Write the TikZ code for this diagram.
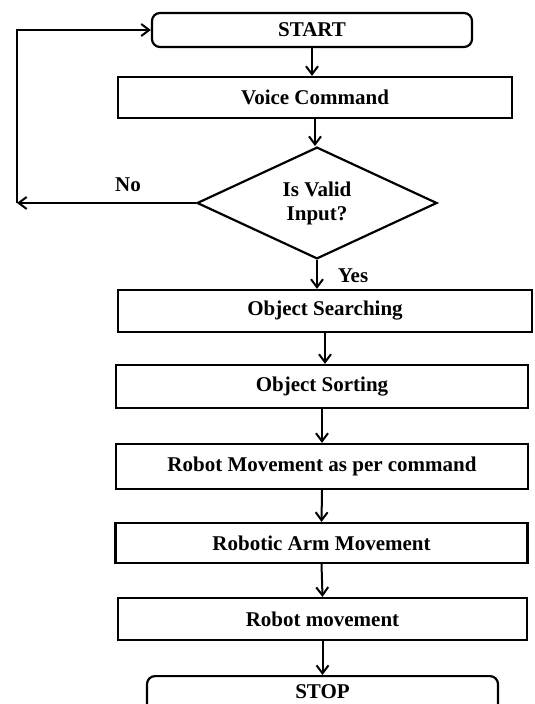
\documentclass[tikz,border=0pt]{standalone}
\usepackage{fontspec}
\setmainfont{Liberation Serif}
\usetikzlibrary{arrows.meta, positioning, shapes.geometric, calc}

\begin{document}
\begin{tikzpicture}[x=1pt, y=1pt,
      font=\fontsize{10.5}{12}\selectfont\bfseries,
      process/.style={rectangle, draw, line width=1.1pt, minimum width=206pt, minimum height=21pt, inner sep=0pt},
      terminal/.style={rectangle, rounded corners=4pt, draw, line width=1.1pt, minimum width=160pt, minimum height=17pt, inner sep=0pt},
      decision/.style={diamond, draw, line width=1.1pt, minimum width=120pt, minimum height=45pt, inner sep=0pt, align=center},
      arrow/.style={-{Straight Barb[length=4pt, width=6pt]}, line width=1pt}]

      \useasboundingbox (0,0) rectangle (267,-352);

      \node[terminal] (start) at (156,-15) {START};
      \node[process, minimum width=197pt, minimum height=20.5pt] (voice) at (157.5,-48.75) {Voice Command};
      \node[decision] (valid) at (158.5,-101.5) {Is Valid\\Input?};
      \node[process, minimum width=207pt] (search) at (162.5,-155.5) {Object Searching};
      \node[process, minimum height=21.5pt] (sorting) at (161,-193.25) {Object Sorting};
      \node[process, minimum height=22.5pt] (robotcmd) at (161,-233.25) {Robot Movement as per command};
      \node[process, minimum height=20pt] (arm) at (160.75,-271.5) {Robotic Arm Movement};
      \node[process, minimum width=204.5pt] (robotmove) at (161.25,-309.5) {Robot movement};
      \node[terminal, minimum width=175.5pt, minimum height=18pt, anchor=north] (stop) at (161.25,-337.5) {};
      \node[font=\fontsize{10.5}{12}\selectfont\bfseries] (stoptext) at (161.25,-346) {STOP};
      \coordinate (loop) at (8.5,-101.5);

      % Arrows
      \draw[arrow] (start.south) -- (start.south |- voice.north);
      \draw[arrow] (voice.south) -- (voice.south |- valid.north);
      \draw[arrow] (valid.south) -- (valid.south |- search.north);
      \draw[arrow] (valid.west) -- (loop);
      \draw[arrow] (loop) |- (start.west);
      \draw[arrow] (search) -- (search |- sorting.north);
      \draw[arrow] (sorting) -- (sorting |- robotcmd.north);
      \draw[arrow] (robotcmd.south) -- (arm.north);
      \draw[arrow] (arm.south) -- (robotmove.north);
      \draw[arrow] (robotmove.south) -- (stop.north);

      % Labels
      \node (no) at (64,-92.5) {No};
      \node (yes) at (176.5,-138) {Yes};
    \end{tikzpicture}
\end{document}
